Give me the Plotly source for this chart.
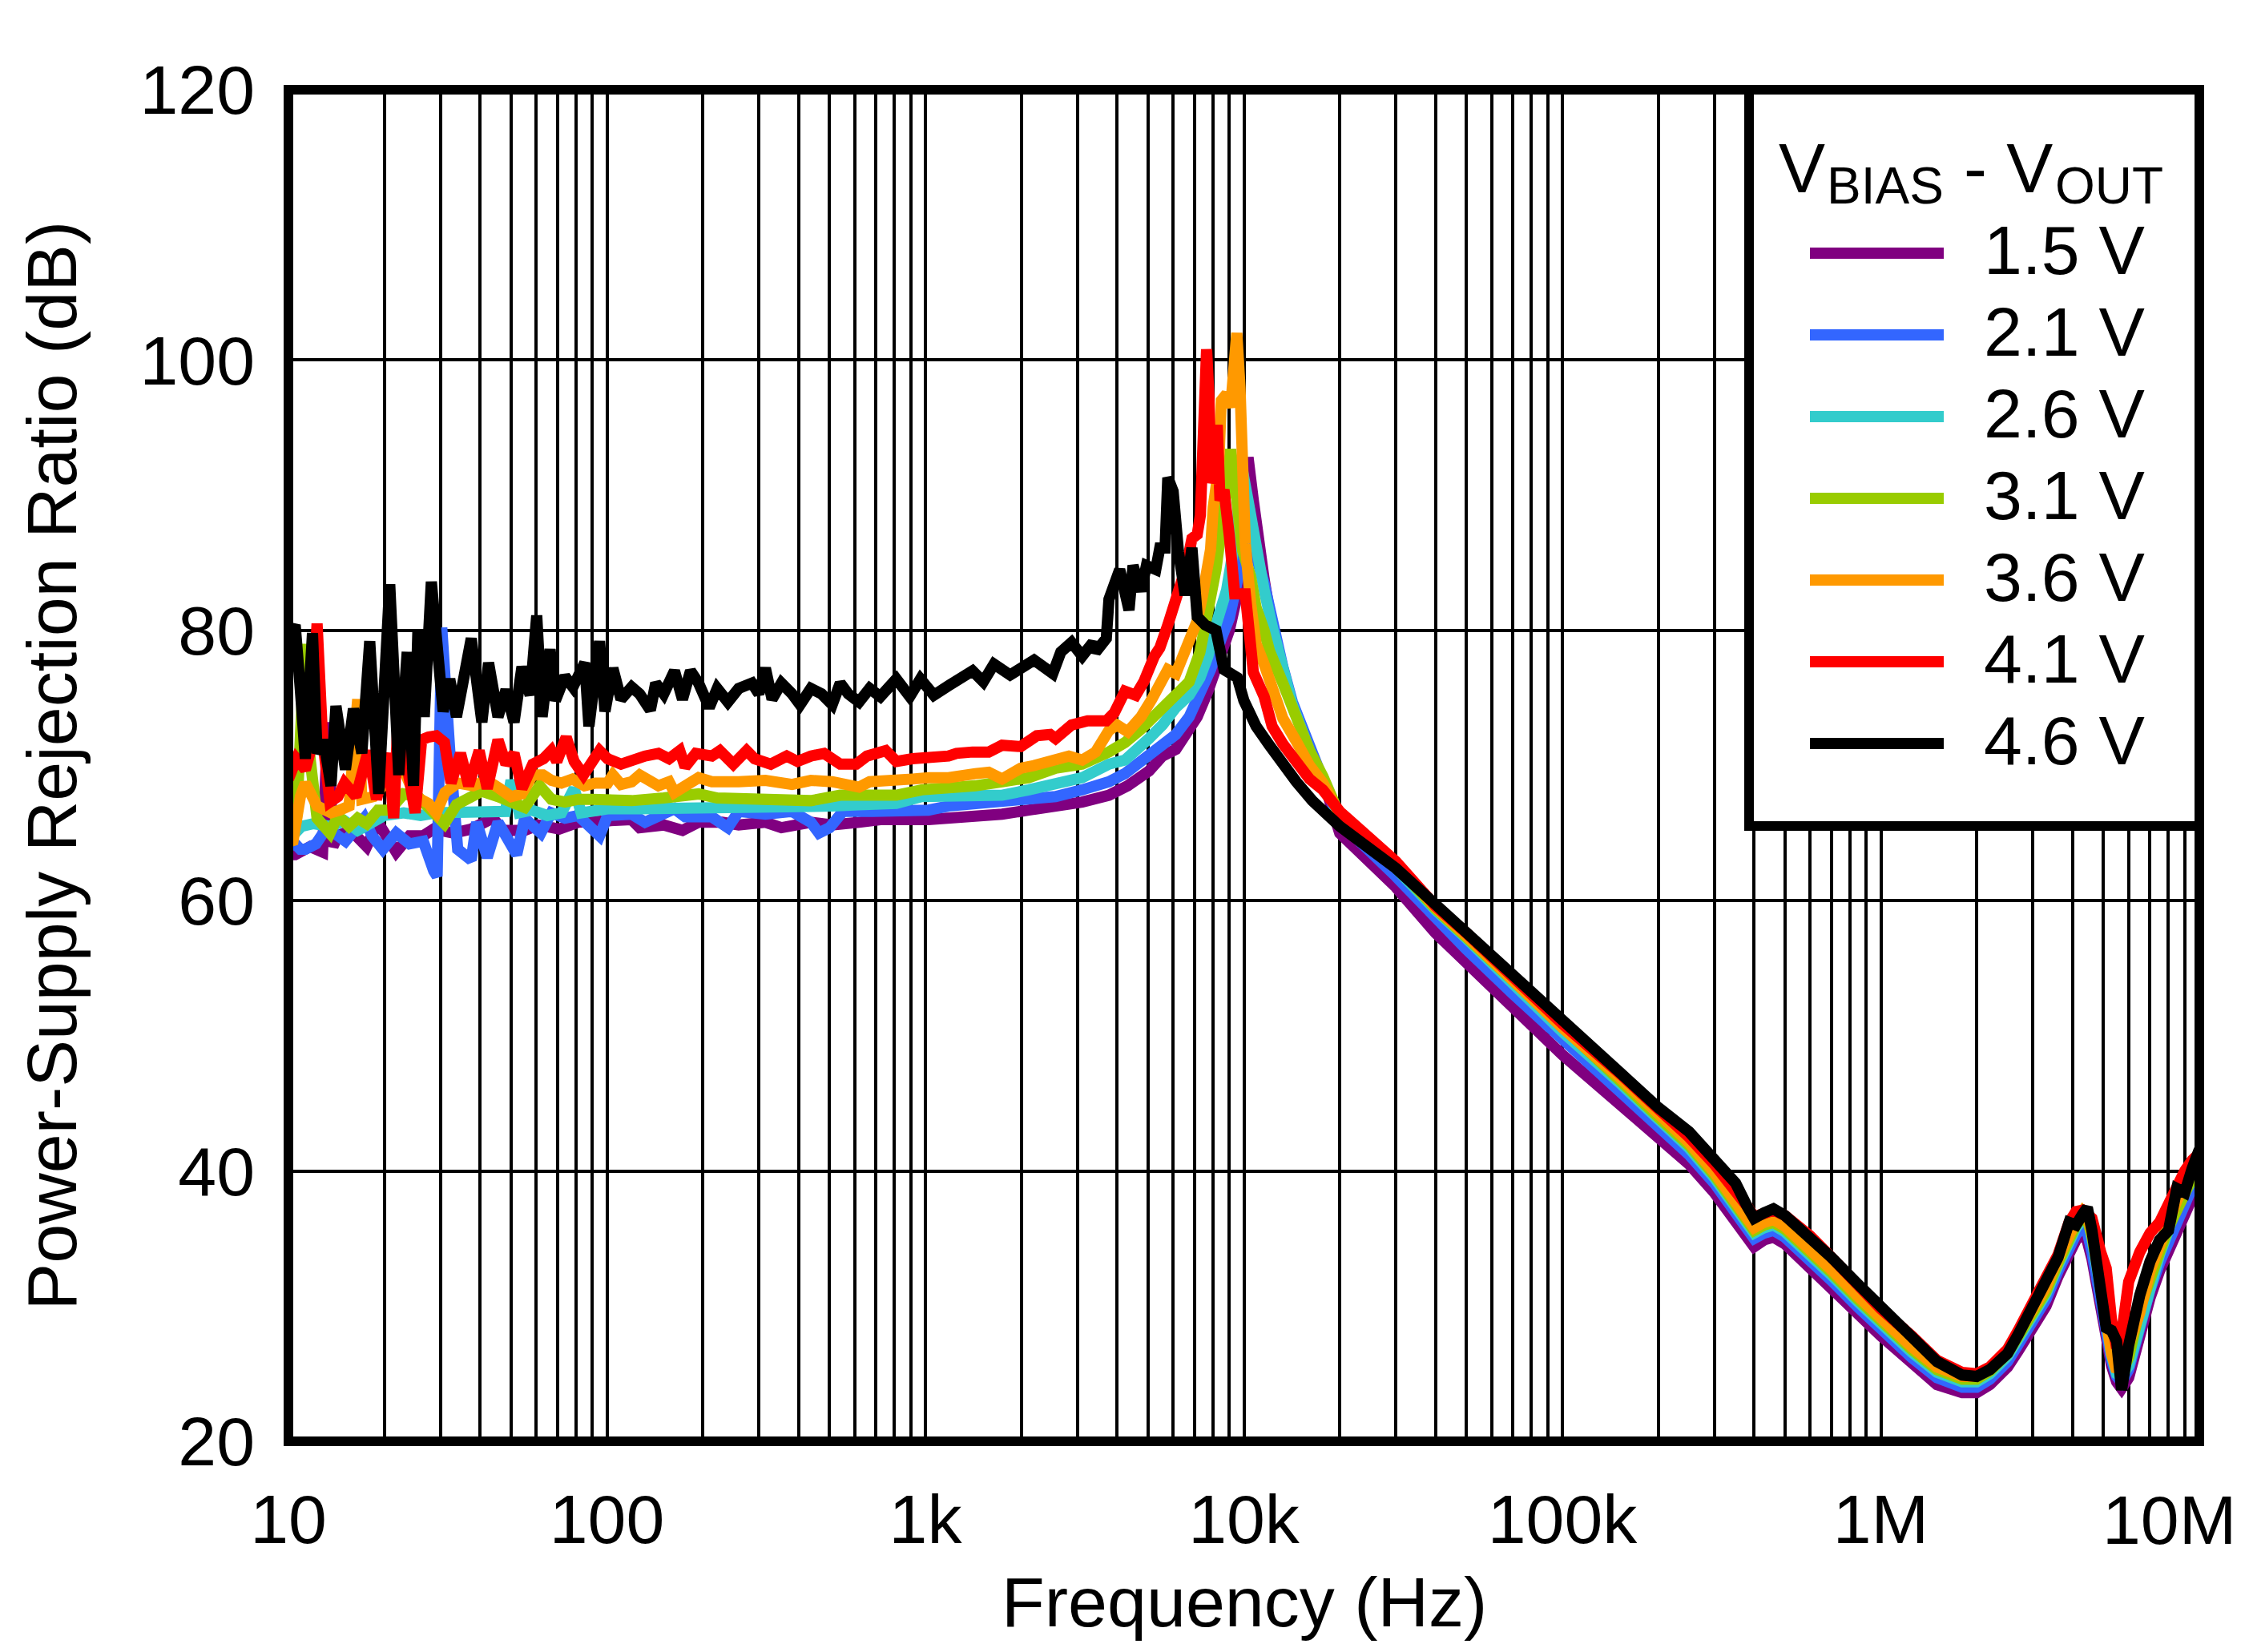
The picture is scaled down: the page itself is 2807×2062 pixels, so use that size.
import plotly.graph_objects as go

# ---------------- data ----------------
series_names = ["1.5 V", "2.1 V", "2.6 V", "3.1 V", "3.6 V", "4.1 V", "4.6 V"]
series_colors = ["#800080", "#3366FF", "#33CCCC", "#99CC00", "#FF9900", "#FF0000", "#000000"]

# shared high-frequency grid (Hz)
freq_hf = [20e3, 30e3, 40e3, 50e3, 70e3, 100e3, 150e3, 200e3, 250e3, 300e3,
           350e3, 380e3, 400e3, 430e3, 460e3, 500e3, 600e3, 700e3, 850e3, 1.0e6,
           1.25e6, 1.5e6, 1.8e6, 2.0e6, 2.2e6, 2.5e6, 2.7e6, 3.0e6, 3.3e6, 3.6e6,
           3.9e6, 4.1e6, 4.3e6, 4.45e6, 4.6e6, 4.9e6, 5.1e6, 5.3e6, 5.5e6, 5.7e6,
           6.0e6, 6.5e6, 7.0e6, 7.5e6, 8.0e6, 8.5e6, 9.0e6, 9.5e6, 10e6]

# ---- 1.5 V ----
v15_f = [10, 10.5, 11.7, 12.8, 13.3, 13.8, 14.3, 15.7, 17.6, 19.1,
         21.8, 24.0, 26.5, 28.6, 33.0, 37.5, 43.8, 47.3, 55.2, 60.8,
         70.9, 81.2, 98.6, 119.6, 126.7, 150.8, 172.7, 194.0, 230, 259.2,
         314.5, 353.1, 436.9, 509.8, 618.8, 722.2, 1022, 1182, 1435, 1741,
         2111, 2563, 3108, 3770, 4319, 5039, 5550, 6115, 6607, 7137,
         7713, 8331, 9000, 9723, 10000, 10306, 10708, 11200, 11574, 12267,
         13252, 14200, 16076, 17700]
v15_db = [63.4, 63.4, 64.0, 63.6, 73.2, 64.0, 64.8, 65.2, 64.0, 65.8,
          63.6, 64.8, 64.8, 65.3, 65.0, 65.3, 66.1, 65.2, 65.2, 65.6,
          65.3, 65.8, 65.9, 66.0, 65.4, 65.6, 65.2, 65.8, 65.8, 65.6,
          65.8, 65.4, 65.8, 65.6, 65.8, 66.0, 66.0, 66.1, 66.2, 66.4,
          66.7, 66.9, 67.3, 67.8, 68.5, 69.6, 70.7, 71.2, 72.3, 73.6,
          75.5, 77.5, 80.0, 83.5, 87.0, 92.8, 89.6, 85.8, 83.8, 80.2,
          77.2, 74.5, 71.2, 69.0]
v15_db_hf = [65.0, 61.0, 57.6, 55.5, 52.1, 48.6, 45.0, 42.5, 40.5, 38.4,
             36.4, 35.1, 34.4, 34.9, 35.1, 34.6, 32.9, 31.4, 29.4, 27.8,
             25.7, 24.2, 23.6, 23.6, 24.2, 25.5, 26.7, 28.3, 30.0, 32.2,
             34.0, 34.9, 35.4, 34.8, 33.5, 29.5, 27.3, 25.6, 24.4, 23.9,
             24.7, 27.9, 30.6, 32.6, 34.2, 35.6, 37.0, 38.0, 39.2]

# ---- 2.1 V ----
v21_f = [10, 10.5, 10.9, 11.3, 12.2, 13.2, 14.3, 15.1, 17.3, 18.3,
         19.8, 21.8, 24.0, 26.5, 28.6, 29.3, 30.3, 31.0, 32.1, 34.0,
         37.5, 39.0, 42.1, 45.5, 52.1, 55.2, 62.0, 66.9, 73.8, 81.2,
         94.8, 100.5, 110.7, 119.6, 131.7, 145.1, 163.0, 176.0, 213.6, 239.8,
         259.2, 314.5, 381.4, 436.9, 463, 500, 551, 683, 826, 1022,
         1182, 1435, 1741, 2111, 2563, 3108, 3770, 4234, 5039, 5550,
         6115, 6735, 7278, 7860, 8492, 9000, 9723, 10104, 10400, 10922,
         11574, 12267, 13252, 14200, 16076, 17700]
v21_db = [64.0, 64.2, 63.8, 63.8, 64.2, 65.4, 64.8, 64.4, 66.1, 64.8,
          63.8, 65.0, 64.2, 64.4, 62.2, 61.8, 80.2, 75.0, 71.1, 63.8,
          63.0, 65.8, 63.2, 65.8, 63.4, 66.1, 65.0, 66.5, 66.1, 66.3,
          64.8, 66.3, 66.4, 66.4, 65.8, 66.2, 66.8, 66.2, 66.2, 65.4,
          66.6, 66.4, 66.6, 65.8, 65.0, 65.4, 66.6, 66.6, 66.6, 66.7,
          67.0, 67.2, 67.4, 67.5, 67.7, 68.2, 68.8, 69.4, 70.7, 71.4,
          72.3, 73.6, 75.2, 77.1, 79.4, 80.9, 84.6, 88.5, 89.0, 85.5,
          83.5, 80.4, 77.3, 74.7, 71.3, 69.1]
v21_db_hf = [65.8, 61.8, 58.7, 56.4, 53.1, 49.7, 46.0, 43.3, 41.2, 39.1,
             37.0, 35.7, 35.0, 35.4, 35.6, 35.1, 33.5, 31.9, 29.9, 28.3,
             26.2, 24.7, 24.0, 24.0, 24.6, 25.9, 27.1, 28.8, 30.5, 32.6,
             34.4, 35.3, 35.8, 35.5, 34.0, 30.0, 27.8, 26.0, 24.8, 24.4,
             25.3, 28.5, 31.2, 33.2, 34.8, 36.4, 37.8, 38.8, 39.8]

# ---- 2.6 V ----
v26_f = [10, 11.0, 12.0, 13.5, 15.0, 16.5, 18.0, 20.0, 23.0, 26.0,
         29.0, 33.0, 38.0, 43.0, 48.0, 50.0, 53.0, 58.0, 65.0, 72.0,
         78.9, 83.0, 90.0, 100.5, 126.7, 163.0, 194.0, 259.2, 314.5, 404.2,
         509.8, 618.8, 810.6, 974, 1302, 1741, 2111, 2563, 3108, 3770,
         4234, 5039, 5550, 6115, 6735, 7278, 7713, 8172, 8830, 9534,
         9815, 10306, 10922, 11574, 12267, 13252, 14200, 16076, 17700]
v26_db = [64.5, 65.5, 65.7, 65.5, 65.9, 65.2, 65.7, 66.3, 66.5, 66.3,
          66.5, 66.5, 66.7, 66.5, 66.6, 68.9, 66.5, 66.7, 66.3, 66.5,
          68.3, 66.5, 66.6, 66.8, 66.8, 66.8, 67.0, 66.9, 67.0, 66.8,
          67.0, 67.1, 67.2, 67.7, 67.7, 67.8, 68.2, 68.6, 69.1, 70.1,
          70.4, 72.0, 73.0, 74.3, 75.2, 76.5, 78.1, 80.4, 83.0, 87.7,
          92.3, 89.6, 85.6, 83.0, 80.3, 76.8, 74.5, 71.1, 69.0]
v26_db_hf = [66.1, 62.4, 59.3, 57.2, 53.8, 50.3, 46.6, 43.8, 41.7, 39.5,
             37.4, 36.1, 35.4, 35.8, 36.0, 35.5, 33.9, 32.3, 30.3, 28.7,
             26.6, 25.1, 24.4, 24.4, 25.0, 26.3, 27.5, 29.2, 30.9, 33.0,
             34.9, 35.8, 36.4, 36.9, 35.0, 30.8, 28.5, 26.4, 25.0, 24.8,
             25.6, 28.8, 31.8, 33.8, 35.6, 37.6, 38.4, 39.2, 40.2]

# ---- 3.1 V ----
v31_f = [10, 10.6, 11.0, 11.2, 11.5, 12.3, 13.5, 14.3, 15.5, 16.5,
         17.6, 19.1, 20.8, 23.0, 25.5, 28.6, 30.9, 33.7, 37.5, 40.5,
         45.5, 51.1, 55.2, 61.5, 66.9, 73.8, 81.2, 90.0, 100.5, 119.6,
         150.8, 194.0, 222.0, 259.2, 300, 381.4, 436.9, 540.2, 668.4, 810.6,
         974, 1182, 1435, 1741, 2111, 2563, 3108, 3770, 4234, 4755,
         5550, 6233, 6735, 7278, 7713, 8172, 8662, 9089, 9357, 9913,
         10500, 10922, 11574, 12026, 13252, 14600, 16076, 17700]
v31_db = [65.5, 66.0, 74.0, 79.0, 72.0, 66.1, 65.0, 66.3, 65.5, 66.1,
          65.7, 66.7, 66.7, 67.9, 67.7, 66.5, 65.7, 67.1, 67.7, 68.1,
          67.7, 67.1, 66.9, 68.5, 67.5, 67.3, 67.5, 67.5, 67.4, 67.4,
          67.6, 67.9, 67.6, 67.6, 67.4, 67.6, 67.4, 67.8, 67.8, 67.8,
          68.2, 68.3, 68.5, 68.8, 69.1, 69.8, 70.1, 71.0, 71.7, 72.7,
          74.3, 75.5, 76.2, 78.4, 81.3, 84.5, 89.0, 93.4, 91.0, 85.9,
          84.0, 81.7, 80.0, 78.5, 76.1, 73.5, 71.1, 69.2]
v31_db_hf = [66.3, 62.6, 59.4, 57.3, 54.0, 50.5, 46.8, 44.0, 41.9, 39.7,
             37.6, 36.3, 35.6, 36.0, 36.2, 35.7, 34.1, 32.5, 30.5, 28.9,
             26.8, 25.3, 24.6, 24.6, 25.2, 26.5, 27.7, 29.4, 31.1, 33.2,
             35.0, 36.0, 36.6, 36.4, 35.2, 31.5, 29.5, 27.0, 25.6, 25.0,
             26.2, 29.8, 32.2, 34.0, 35.8, 37.2, 38.6, 39.6, 40.6]

# ---- 3.6 V ----
v36_f = [10, 10.3, 10.9, 11.3, 12.3, 13.6, 14.5, 15.5, 16.5, 17.0,
         18.5, 20.6, 23.0, 25.0, 27.5, 29.1, 31.0, 34.0, 38.0, 42.0,
         46.0, 50.0, 54.0, 58.5, 63.0, 67.0, 72.0, 78.0, 85.0, 92.0,
         100.5, 104.4, 110.7, 119.6, 126.7, 145.1, 156.7, 163.0, 194.0, 213.6,
         259.2, 314.5, 381.4, 436.9, 509.8, 618.8, 668.4, 810.6, 910.6, 1022,
         1182, 1435, 1580, 1741, 1992, 2194, 2563, 2821, 3108, 3423,
         3770, 3995, 4319, 4755, 5139, 5550, 5770, 6115, 6735, 7137,
         7419, 7860, 8012, 8331, 8492, 8830, 9089, 9300, 9501, 9723,
         9900, 10104, 10500, 10922, 11574, 12026, 13252, 14600, 16076, 17700]
v36_db = [64.5, 64.2, 67.7, 68.7, 67.0, 66.5, 66.7, 67.0, 74.9, 67.5,
          67.7, 69.0, 69.7, 67.7, 67.2, 66.5, 68.0, 68.7, 68.5, 68.9,
          68.3, 67.7, 67.9, 69.3, 69.3, 68.9, 68.7, 69.0, 68.5, 68.7,
          68.7, 69.3, 68.6, 68.8, 69.3, 68.5, 68.8, 68.0, 69.1, 68.8,
          68.8, 68.9, 68.6, 68.9, 68.8, 68.4, 68.8, 68.8, 69.0, 69.1,
          69.1, 69.4, 69.5, 69.0, 69.8, 70.0, 70.4, 70.7, 70.4, 71.0,
          72.6, 73.0, 72.5, 73.6, 74.9, 76.2, 77.1, 76.8, 79.1, 80.7,
          82.6, 86.0, 89.1, 92.0, 97.0, 97.5, 96.5, 99.0, 102.0, 98.0,
          93.0, 86.4, 82.0, 79.0, 77.5, 76.4, 73.5, 71.8, 70.0, 68.7]
v36_db_hf = [66.4, 62.8, 59.5, 57.4, 54.1, 50.6, 47.0, 44.2, 42.1, 39.9,
             37.8, 36.5, 35.8, 36.2, 36.4, 35.9, 34.3, 32.7, 30.7, 29.1,
             27.0, 25.5, 24.8, 24.8, 25.4, 26.7, 27.9, 29.7, 31.4, 33.5,
             35.4, 36.3, 37.0, 36.6, 35.5, 32.0, 29.0, 26.5, 25.2, 25.6,
             27.0, 29.5, 32.6, 34.6, 36.2, 37.8, 39.0, 40.2, 41.5]

# ---- 4.1 V ----
v41_f = [10, 10.6, 11.3, 11.7, 12.3, 12.8, 13.5, 14.3, 15.0, 16.3,
         17.8, 18.9, 20.6, 21.4, 22.2, 23.3, 25.0, 26.2, 27.5, 29.1,
         30.9, 32.4, 34.7, 36.8, 39.7, 42.1, 45.5, 48.2, 51.1, 54.1,
         58.5, 63.2, 66.9, 69.6, 74.5, 78.9, 84.4, 94.8, 100.5, 110.7,
         131.7, 145.1, 156.7, 169.3, 176.0, 190.1, 213.6, 226.3, 249.4, 274.6,
         291.1, 327.0, 367.0, 396.5, 436.9, 481.0, 540.2, 606.8, 655.6, 750.6,
         810.6, 910.6, 1182, 1252, 1406, 1580, 1741, 1992, 2237, 2465,
         2563, 2877, 3230, 3698, 3920, 4234, 4576, 4851, 5237, 5445,
         5770, 6233, 6607, 6869, 7137, 7300, 7500, 7637, 7760, 7900,
         8100, 8248, 8414, 8662, 9000, 9357, 10104, 10708, 11574, 12267,
         13252, 14600, 16076, 17700]
v41_db = [69.0, 70.5, 69.7, 71.0, 80.5, 72.0, 67.3, 67.7, 68.7, 67.7,
          71.1, 67.5, 70.9, 66.1, 74.8, 70.7, 66.5, 71.9, 72.1, 72.2,
          71.7, 68.7, 70.9, 68.5, 71.1, 68.3, 71.9, 70.1, 70.9, 68.3,
          70.1, 70.5, 71.1, 70.3, 72.1, 70.3, 69.3, 71.1, 70.5, 70.1,
          70.7, 70.9, 70.5, 71.1, 69.9, 70.9, 70.7, 71.1, 70.1, 71.1,
          70.5, 70.1, 70.7, 70.3, 70.7, 70.9, 70.1, 70.1, 70.7, 71.1,
          70.3, 70.5, 70.7, 70.9, 71.0, 71.0, 71.5, 71.4, 72.2, 72.3,
          72.0, 73.0, 73.3, 73.3, 73.9, 75.5, 75.2, 76.2, 78.1, 78.7,
          80.4, 82.9, 84.8, 86.8, 87.1, 88.5, 97.0, 100.8, 97.5, 90.9,
          92.0, 95.2, 89.6, 90.4, 87.0, 82.7, 82.7, 76.9, 75.1, 72.9,
          71.6, 70.3, 69.0, 68.2]
v41_db_hf = [66.6, 62.9, 59.6, 57.6, 54.3, 50.9, 47.3, 44.6, 42.5, 40.5,
             38.6, 37.4, 36.6, 36.8, 37.1, 36.7, 35.2, 33.6, 31.5, 29.8,
             27.8, 26.0, 25.1, 25.0, 25.5, 26.8, 28.2, 30.2, 31.8, 33.8,
             36.2, 37.0, 37.1, 36.8, 36.5, 34.0, 32.8, 29.0, 26.9, 27.9,
             31.8, 34.0, 35.4, 36.2, 37.7, 39.1, 40.0, 40.8, 41.3]

# ---- 4.6 V ----
v46_f = [10, 10.5, 10.9, 11.3, 11.9, 12.3, 12.9, 13.6, 14.1, 15.1,
         16.0, 17.0, 18.0, 19.2, 20.8, 22.2, 23.6, 24.7, 25.5, 26.7,
         28.1, 30.6, 32.1, 33.7, 37.5, 40.5, 42.5, 45.5, 48.2, 51.1,
         54.1, 57.4, 60.2, 62.6, 66.3, 68.9, 73.8, 78.2, 85.2, 87.8,
         94.8, 98.6, 104.4, 110.7, 119.6, 126.7, 136.9, 142.3, 150.8, 163.0,
         172.7, 183.0, 194.0, 209.6, 222.0, 239.8, 259.2, 285.4, 300, 314.5,
         330, 353.1, 381.4, 404.2, 436.9, 471.9, 509.8, 540.2, 572.5, 618.8,
         668.4, 722.2, 810.6, 893.2, 964.7, 1063, 1182, 1302, 1406, 1520,
         1642, 1845, 1992, 2194, 2512, 2662, 2877, 3108, 3356, 3423,
         3698, 3770, 4075, 4358, 4487, 4755, 4943, 5289, 5445, 5657,
         5770, 5995, 6233, 6542, 6869, 7137, 7563, 8172, 8662, 9534,
         10000, 10922, 12026, 13500, 14600, 16400, 18800]
v46_db = [79.5, 80.4, 75.6, 70.5, 79.8, 70.9, 71.9, 68.5, 74.4, 69.7,
          74.2, 70.9, 79.2, 67.9, 83.4, 69.3, 78.4, 68.5, 80.0, 73.6,
          83.6, 74.0, 76.4, 73.6, 79.4, 73.2, 77.6, 73.6, 75.6, 73.2,
          77.3, 75.2, 81.1, 73.6, 78.6, 74.8, 76.6, 75.8, 77.6, 72.9,
          79.2, 74.0, 77.2, 74.9, 75.8, 75.3, 74.1, 76.1, 75.3, 77.0,
          74.9, 77.0, 76.1, 74.3, 75.7, 74.7, 75.7, 76.1, 75.3, 77.2,
          74.9, 76.1, 75.3, 74.5, 75.7, 75.3, 74.5, 76.1, 75.3, 74.7,
          75.7, 75.1, 76.4, 75.1, 76.4, 75.2, 75.9, 76.5, 77.0, 76.2,
          77.5, 76.7, 77.1, 77.8, 76.8, 78.4, 79.1, 78.1, 79.1, 78.4,
          79.4, 82.3, 84.5, 81.5, 84.8, 82.9, 84.8, 84.5, 86.1, 86.1,
          91.3, 90.3, 85.8, 82.6, 86.1, 81.0, 80.4, 80.0, 77.1, 76.5,
          74.8, 72.9, 71.5, 69.8, 68.8, 67.4, 66.1]
v46_db_hf = [65.5, 62.4, 59.7, 57.6, 54.4, 51.0, 47.2, 44.7, 42.9, 41.0,
             39.1, 37.4, 36.5, 36.9, 37.2, 36.7, 35.1, 33.6, 31.6, 30.0,
             27.7, 25.9, 24.9, 24.8, 25.3, 26.5, 27.9, 29.9, 31.6, 33.6,
             36.2, 36.0, 36.8, 37.3, 35.6, 31.2, 28.4, 28.2, 27.4, 23.8,
             27.1, 30.8, 33.3, 34.9, 35.6, 38.7, 38.4, 40.2, 41.6]

decade_vals = [10, 100, 1e3, 1e4, 1e5, 1e6, 1e7]
decade_labels = ["10", "100", "1k", "10k", "100k", "1M", "10M"]
y_ticks = [20, 40, 60, 80, 100, 120]

series_f = [v15_f, v21_f, v26_f, v31_f, v36_f, v41_f, v46_f]
series_db = [v15_db, v21_db, v26_db, v31_db, v36_db, v41_db, v46_db]
series_db_hf = [v15_db_hf, v21_db_hf, v26_db_hf, v31_db_hf, v36_db_hf, v41_db_hf, v46_db_hf]

# ---------------- layout geometry (page pixels) ----------------
OFF = 8                       # default page body margin
PAGE_W, PAGE_H = 2807, 2062
W, H = PAGE_W - OFF, PAGE_H - OFF
PL, PR, PT, PB = 360, 2745, 112, 1799   # plot area in page pixels
FONT = "Liberation Sans, Arial, sans-serif"
FS = 86
FS_T = 88
LW = 14


def px(xp):
    return (xp - PL) / (PR - PL)


def py(yp):
    return (PB - yp) / (PB - PT)


fig = go.Figure()
for name, color, fl, dl, dh in zip(series_names, series_colors, series_f, series_db, series_db_hf):
    fig.add_trace(go.Scatter(x=fl + freq_hf, y=dl + dh, mode="lines", name=name,
                             line=dict(color=color, width=LW), showlegend=False))

# grid tick positions (1..9 per decade); last decade label placed separately
grid_x = []
grid_txt = []
for d, lab in zip(decade_vals[:-1], decade_labels[:-1]):
    for m in range(1, 10):
        grid_x.append(d * m)
        grid_txt.append(lab if m == 1 else "")
grid_x.append(decade_vals[-1])
grid_txt.append("")

black_font = dict(family=FONT, size=FS, color="black")
shapes = [
    dict(type="rect", xref="paper", yref="paper", x0=0, x1=1, y0=0, y1=1,
         line=dict(color="black", width=12), layer="above"),
    dict(type="rect", xref="paper", yref="paper", x0=px(2183), x1=1, y0=py(1031), y1=1,
         fillcolor="white", line=dict(color="black", width=12), layer="above"),
]
annotations = [
    # legend title  V_BIAS - V_OUT
    dict(text="V", xref="paper", yref="paper", x=px(2218), y=py(209), xanchor="left",
         yanchor="middle", showarrow=False, font=dict(family=FONT, size=87, color="black")),
    dict(text="BIAS", xref="paper", yref="paper", x=px(2278), y=py(232), xanchor="left",
         yanchor="middle", showarrow=False, font=dict(family=FONT, size=64, color="black")),
    dict(text="- V", xref="paper", yref="paper", x=px(2449), y=py(209), xanchor="left",
         yanchor="middle", showarrow=False, font=dict(family=FONT, size=87, color="black")),
    dict(text="OUT", xref="paper", yref="paper", x=px(2563), y=py(232), xanchor="left",
         yanchor="middle", showarrow=False, font=dict(family=FONT, size=64, color="black")),
    # last x tick label, kept inside the page
    dict(text=decade_labels[-1], xref="paper", yref="paper", x=px(2707), y=py(1897),
         xanchor="center", yanchor="middle", showarrow=False, font=black_font),
    # axis titles
    dict(text="Frequency (Hz)", xref="paper", yref="paper", x=0.5, y=py(1999),
         xanchor="center", yanchor="middle", showarrow=False,
         font=dict(family=FONT, size=FS_T, color="black")),
    dict(text="Power-Supply Rejection Ratio (dB)", xref="paper", yref="paper",
         x=px(64), y=0.5, xanchor="center", yanchor="middle", textangle=-90,
         showarrow=False, font=dict(family=FONT, size=FS_T, color="black")),
]
for i, (name, color) in enumerate(zip(series_names, series_colors)):
    yc = 312 + i * 102
    shapes.append(dict(type="line", xref="paper", yref="paper", x0=px(2259), x1=px(2426),
                       y0=py(yc + 4), y1=py(yc + 4), line=dict(color=color, width=14),
                       layer="above"))
    annotations.append(dict(text=name, xref="paper", yref="paper", x=px(2474), y=py(yc),
                            xanchor="left", yanchor="middle", showarrow=False,
                            font=black_font))

fig.update_layout(
    width=W, height=H,
    margin=dict(l=PL - OFF, r=PAGE_W - PR, t=PT - OFF, b=PAGE_H - PB, autoexpand=False),
    paper_bgcolor="white", plot_bgcolor="white",
    font=black_font,
    showlegend=False,
    shapes=shapes, annotations=annotations,
    xaxis=dict(type="log", range=[1, 7], tickmode="array", tickvals=grid_x, ticktext=grid_txt,
               showgrid=True, gridcolor="black", gridwidth=4, zeroline=False, showline=False,
               ticks="", tickfont=black_font, ticklabelstandoff=40),
    yaxis=dict(range=[20, 120], tickmode="array", tickvals=y_ticks,
               ticktext=[str(v) for v in y_ticks],
               showgrid=True, gridcolor="black", gridwidth=4, zeroline=False, showline=False,
               ticks="", tickfont=black_font, ticklabelstandoff=41),
)

fig.write_html("out.html")
